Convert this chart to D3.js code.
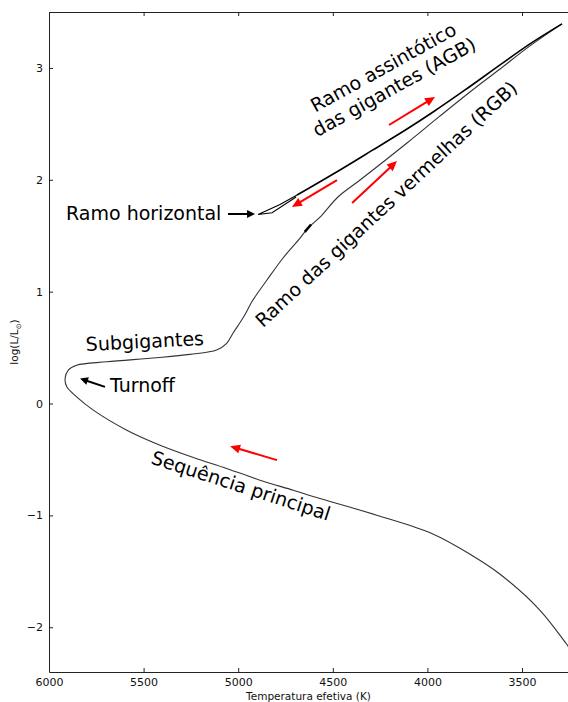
<!DOCTYPE html>
<html><head><meta charset="utf-8">
<script src="https://cdn.jsdelivr.net/npm/d3@7"></script>
<style>body{margin:0;background:#fff}svg{display:block;font-family:"DejaVu Sans",sans-serif}</style>
</head><body><svg id="c" width="568" height="702"></svg>
<script>
// Evolutionary track: main sequence -> turnoff -> subgiants -> RGB -> tip
const trackTemp = [3193,3264,3405,3616,3766,3977,4268,4568,4709,4885,5061,5237,5413,5589,5766,5854,5906,5915,5898,5854,5695,5431,5255,5114,5061,5027,4975,4922,4848,4763,4673,4631,4562,4473,4356,4108,3933,3775,3616,3458,3289];
const trackLogL = [-2.313,-2.152,-1.848,-1.526,-1.356,-1.162,-0.998,-0.849,-0.775,-0.685,-0.580,-0.482,-0.372,-0.238,-0.059,0.060,0.149,0.224,0.299,0.343,0.373,0.409,0.439,0.478,0.538,0.630,0.764,0.925,1.104,1.301,1.479,1.569,1.676,1.846,1.998,2.329,2.571,2.785,2.991,3.197,3.394];
// Horizontal branch loop
const hbTemp = [4694,4821,4895,4779,4689];
const hbLogL = [1.846,1.706,1.690,1.779,1.864];
// Asymptotic giant branch
const agbTemp = [4689,4462,4288,4108,3970,3801,3616,3458,3289];
const agbLogL = [1.864,2.088,2.267,2.454,2.606,2.803,3.027,3.215,3.394];
// RGB bump
const bumpTemp = [4648,4615];
const bumpLogL = [1.535,1.600];
// Red arrows (direction of evolution)
const redFromT = [4795,4398,4478,4203];
const redFromL = [-0.506,1.792,1.998,2.490];
const redToT = [5043,4161,4716,3960];
const redToL = [-0.381,2.168,1.757,2.741];
// Black pointer arrows
const blackFromT = [5054,5704];
const blackFromL = [1.694,0.149];
const blackToT = [4911,5836];
const blackToL = [1.694,0.224];
// Labels
const labelText = ["Ramo horizontal","Turnoff","Subgigantes","Sequência principal","Ramo das gigantes vermelhas (RGB)"];
const labelT = [5910,5678,5804,5466,4869];
const labelL = [1.640,0.102,0.469,-0.533,0.674];
const labelAngle = [0,0,-3,18,-43];
const agbLines = ["Ramo assintótico","das gigantes (AGB)"];
const agbLabelT = 4216, agbLabelL = 2.953, agbLabelAngle = -29;
// Ticks
const xTicks = [6000,5500,5000,4500,4000,3500];
const yTicks = [-2,-1,0,1,2,3];

const svg = d3.select("#c");
const x = d3.scaleLinear().domain([6000,3257]).range([49,568]);
const y = d3.scaleLinear().domain([-2.4,3.5]).range([672,12]);

// axes
const gB = svg.append("g").attr("transform","translate(0,672)")
  .call(d3.axisBottom(x).tickValues(xTicks).tickSizeInner(-4).tickSizeOuter(0).tickPadding(6).tickFormat(d3.format("d")));
const gT = svg.append("g").attr("transform","translate(0,12)")
  .call(d3.axisTop(x).tickValues(xTicks).tickSizeInner(-4).tickSizeOuter(0).tickFormat(""));
const gL = svg.append("g").attr("transform","translate(49,0)")
  .call(d3.axisLeft(y).tickValues(yTicks).tickSizeInner(-4).tickSizeOuter(0).tickPadding(6).tickFormat(d=>d<0?"\u2212"+Math.abs(d):d));
[gB,gT,gL].forEach(g=>{
  g.selectAll(".domain").attr("stroke","#222").attr("stroke-width",1);
  g.selectAll(".tick line").attr("stroke","#222");
  g.selectAll("text").attr("font-size",11).attr("fill","#111").attr("font-family","DejaVu Sans");
});

svg.append("text").attr("x",308.5).attr("y",700).attr("text-anchor","middle")
  .attr("font-size",10.5).attr("fill","#111").text("Temperatura efetiva (K)");
const yl = svg.append("text").attr("transform","translate(18,342) rotate(-90)").attr("text-anchor","middle")
  .attr("font-size",10.5).attr("fill","#111");
yl.append("tspan").text("log(L/L");
yl.append("tspan").attr("font-size",7).attr("dy",3).text("\u2299");
yl.append("tspan").attr("dy",-3).text(")");

svg.append("clipPath").attr("id","pa").append("rect")
  .attr("x",49).attr("y",12).attr("width",519).attr("height",660);
const plot = svg.append("g").attr("clip-path","url(#pa)");

const lineC = d3.line().x(d=>x(d[0])).y(d=>y(d[1])).curve(d3.curveCatmullRom.alpha(0.5));
const lineL = d3.line().x(d=>x(d[0])).y(d=>y(d[1]));
plot.append("path").datum(trackTemp.map((t,i)=>[t,trackLogL[i]]))
  .attr("d",lineC).attr("fill","none").attr("stroke","#333").attr("stroke-width",1.1);
plot.append("path").datum(hbTemp.map((t,i)=>[t,hbLogL[i]]))
  .attr("d",lineL).attr("fill","none").attr("stroke","#000").attr("stroke-width",1.1).attr("stroke-linejoin","miter");
plot.append("path").datum(agbTemp.map((t,i)=>[t,agbLogL[i]]))
  .attr("d",lineC).attr("fill","none").attr("stroke","#000").attr("stroke-width",1.6).attr("stroke-linejoin","round");
plot.append("path").datum(bumpTemp.map((t,i)=>[t,bumpLogL[i]]))
  .attr("d",lineL).attr("fill","none").attr("stroke","#000").attr("stroke-width",2.5);

function arrow(x1,y1,x2,y2,color,w,hl,hw){
  const dx=x2-x1, dy=y2-y1, len=Math.hypot(dx,dy), ux=dx/len, uy=dy/len;
  const bx=x2-ux*hl, by=y2-uy*hl;
  svg.append("line").attr("x1",x1).attr("y1",y1).attr("x2",bx+ux*1).attr("y2",by+uy*1)
    .attr("stroke",color).attr("stroke-width",w);
  svg.append("path").attr("d",`M${x2},${y2}L${bx-uy*hw/2},${by+ux*hw/2}L${bx+uy*hw/2},${by-ux*hw/2}Z`)
    .attr("fill",color);
}
redFromT.forEach((t,i)=>arrow(x(t),y(redFromL[i]),x(redToT[i]),y(redToL[i]),"#f00",2,10,9));
blackFromT.forEach((t,i)=>arrow(x(t),y(blackFromL[i]),x(blackToT[i]),y(blackToL[i]),"#000",2,8,8));

labelText.forEach((s,i)=>{
  svg.append("text").attr("transform",`translate(${x(labelT[i])},${y(labelL[i])}) rotate(${labelAngle[i]})`)
    .attr("font-size",19).attr("fill","#000").text(s);
});
const agb = svg.append("text").attr("transform",`translate(${x(agbLabelT)},${y(agbLabelL)}) rotate(${agbLabelAngle})`)
  .attr("font-size",19).attr("fill","#000").attr("text-anchor","middle");
agbLines.forEach((s,i)=>agb.append("tspan").attr("x",0).attr("dy",i?"1.18em":0).text(s));
</script></body></html>
